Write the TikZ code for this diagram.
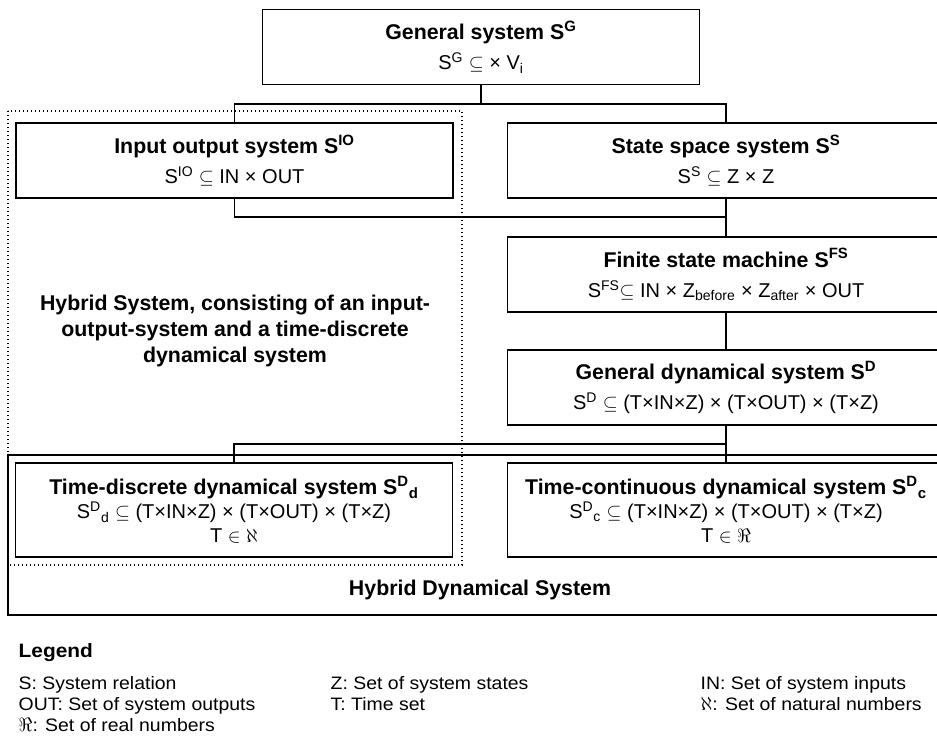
\documentclass[tikz,border=0pt]{standalone}
\usepackage{fontspec}
\setmainfont{Liberation Sans}
\newfontfamily\legendfont[FakeStretch=1.08]{Liberation Sans}
\newcommand\boxtitle[1]{{\fontsize{16}{18}\selectfont\bfseries #1}}
\begin{document}
\begin{tikzpicture}[x=0.75pt,y=-0.75pt,line width=1.1pt,
  sysbox/.style={draw,minimum width=327.75pt,minimum height=56.25pt,align=center,inner sep=0pt,font=\fontsize{15}{18}\selectfont},
  tallbox/.style={sysbox,minimum height=70.5pt},
  dotbox/.style={line width=0.8pt,dash pattern=on 0.8pt off 2.2pt},
  legendtext/.style={anchor=base west,inner sep=0pt,font=\legendfont\fontsize{13.5}{15}\selectfont}]
\useasboundingbox (0,0) rectangle (937,744);
\clip (0,0) rectangle (937,744);
\node[sysbox] (gen) at (481,47) {\boxtitle{General system S\textsuperscript{G}}\\[4.5pt] S\textsuperscript{G} $\subseteq$ × V\textsubscript{i}};
\node[sysbox] (io) at (234.5,160.5) {\boxtitle{Input output system S\textsuperscript{IO}}\\[4.5pt] S\textsuperscript{IO} $\subseteq$ IN × OUT};
\node[sysbox] (ss) at (726,160.5) {\boxtitle{State space system S\textsuperscript{S}}\\[4.5pt] S\textsuperscript{S} $\subseteq$ Z × Z};
\node[sysbox] (fsm) at (726,274.5) {\boxtitle{Finite state machine S\textsuperscript{FS}}\\[4.5pt] S\textsuperscript{FS}$\subseteq$ IN × Z\textsubscript{before} × Z\textsubscript{after} × OUT};
\node[sysbox] (gds) at (726,387.5) {\boxtitle{General dynamical system S\textsuperscript{D}}\\[4.5pt] S\textsuperscript{D} $\subseteq$ (T×IN×Z) × (T×OUT) × (T×Z)};
\node[tallbox] (td) at (234,510) {\boxtitle{Time-discrete dynamical system S\textsuperscript{D}\textsubscript{d}}\\ S\textsuperscript{D}\textsubscript{d} $\subseteq$ (T×IN×Z) × (T×OUT) × (T×Z)\\ T $\in$ $\aleph$};
\node[tallbox] (tc) at (726,510) {\boxtitle{Time-continuous dynamical system S\textsuperscript{D}\textsubscript{c}}\\ S\textsuperscript{D}\textsubscript{c} $\subseteq$ (T×IN×Z) × (T×OUT) × (T×Z)\\ T $\in$ $\Re$};
\coordinate (j1) at (481,104);
\coordinate (j2) at (726,217);
\coordinate (j3) at (726,444);
\draw (gen.south) -- (j1) -| (io.north);
\draw (j1) -| (ss.north);
\draw (io.south) |- (j2);
\draw (ss.south) -- (fsm.north);
\draw (fsm.south) -- (gds.north);
\draw (gds.south) -- (tc.north);
\draw (j3) -| (td.north);
\draw (8,455) rectangle (952,615);
\draw[dotbox] (8,111) rectangle (462,565);
\node[font=\fontsize{16}{19.5}\selectfont\bfseries,align=center] (hs) at (235,331) {Hybrid System, consisting of an input-\\output-system and a time-discrete\\dynamical system};
\node[font=\fontsize{16}{19}\selectfont\bfseries] (hds) at (480,590) {Hybrid Dynamical System};
\node[legendtext,font=\legendfont\fontsize{14.5}{16}\selectfont\bfseries] (legend) at (18,657) {Legend};
\node[legendtext] (l1) at (18,689) {S: System relation};
\node[legendtext] (l2) at (330,689) {Z: Set of system states};
\node[legendtext] (l3) at (700,689) {IN: Set of system inputs};
\node[legendtext] (l4) at (18,710) {OUT: Set of system outputs};
\node[legendtext] (l5) at (330,710) {T: Time set};
\node[legendtext] (l6) at (700,710) {$\aleph$: Set of natural numbers};
\node[legendtext] (l7) at (18,731) {$\Re$: Set of real numbers};
\end{tikzpicture}
\end{document}
